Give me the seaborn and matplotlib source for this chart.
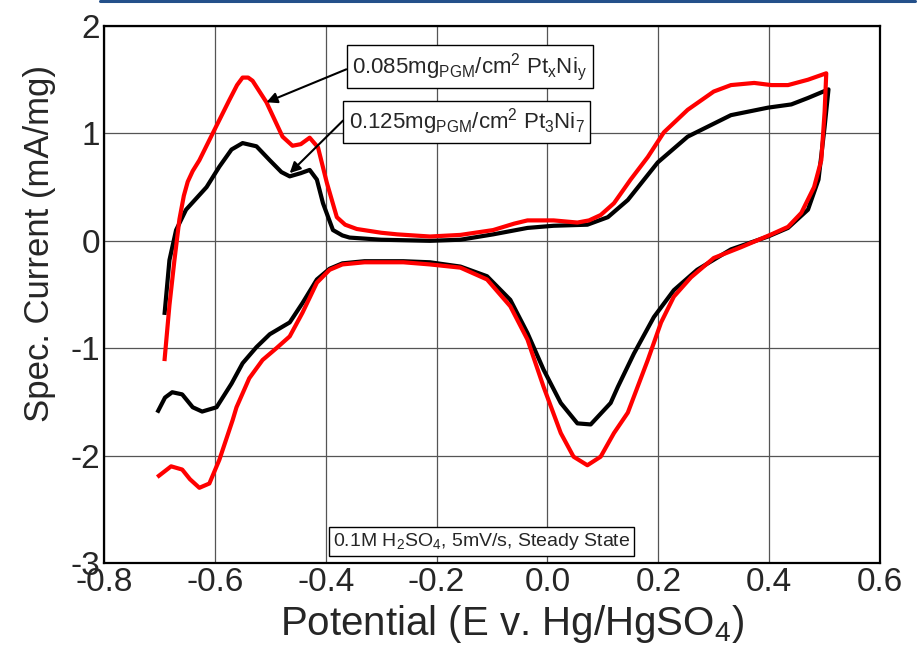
import numpy as np
import pandas as pd
import matplotlib
matplotlib.use("Agg")
import matplotlib.pyplot as plt
from matplotlib.lines import Line2D
import seaborn as sns

# potential (V vs Hg/HgSO4) and specific current (mA/mg)
ptni_x = [-0.691, -0.682, -0.673, -0.664, -0.656, -0.649, -0.640, -0.628, -0.604, -0.574,
          -0.560, -0.550, -0.540, -0.532, -0.507, -0.478, -0.460, -0.445, -0.429, -0.414,
          -0.398, -0.380, -0.365, -0.344, -0.300, -0.271, -0.212, -0.157, -0.098, -0.060,
          -0.036, 0.011, 0.054, 0.075, 0.096, 0.120, 0.150, 0.181, 0.210, 0.253,
          0.300, 0.331, 0.373, 0.404, 0.434, 0.470, 0.503,
          0.500, 0.494, 0.481, 0.458, 0.434, 0.404, 0.349, 0.300, 0.259, 0.228,
          0.205, 0.181, 0.145, 0.120, 0.096, 0.072, 0.047, 0.024, -0.007, -0.036,
          -0.067, -0.109, -0.157, -0.212, -0.260, -0.330, -0.370, -0.393, -0.416, -0.442,
          -0.465, -0.489, -0.514, -0.538, -0.561, -0.568, -0.592, -0.610, -0.628, -0.645,
          -0.659, -0.679, -0.704]
ptni_y = [-1.12, -0.60, -0.18, 0.20, 0.42, 0.55, 0.65, 0.75, 1.00, 1.31,
          1.45, 1.52, 1.52, 1.49, 1.29, 0.97, 0.885, 0.90, 0.96, 0.87,
          0.54, 0.22, 0.15, 0.11, 0.075, 0.06, 0.04, 0.055, 0.10, 0.16,
          0.19, 0.19, 0.17, 0.19, 0.24, 0.35, 0.57, 0.78, 1.01, 1.22,
          1.39, 1.45, 1.47, 1.45, 1.45, 1.50, 1.56,
          1.20, 0.75, 0.50, 0.26, 0.13, 0.06, -0.06, -0.16, -0.34, -0.52,
          -0.76, -1.11, -1.60, -1.79, -2.01, -2.09, -2.01, -1.79, -1.36, -0.92,
          -0.61, -0.36, -0.25, -0.22, -0.20, -0.20, -0.22, -0.27, -0.39, -0.67,
          -0.89, -1.00, -1.11, -1.28, -1.55, -1.67, -2.04, -2.26, -2.30, -2.22,
          -2.13, -2.10, -2.20]

pt3ni7_x = [-0.691, -0.682, -0.670, -0.652, -0.615, -0.592, -0.570, -0.550, -0.525, -0.501,
            -0.480, -0.465, -0.445, -0.429, -0.416, -0.405, -0.387, -0.370, -0.357, -0.300,
            -0.212, -0.157, -0.098, -0.036, 0.011, 0.072, 0.109, 0.145, 0.199, 0.253,
            0.331, 0.398, 0.440, 0.470, 0.507,
            0.500, 0.489, 0.470, 0.434, 0.398, 0.331, 0.270, 0.228, 0.192, 0.156,
            0.127, 0.114, 0.096, 0.078, 0.054, 0.024, -0.007, -0.036, -0.067, -0.109,
            -0.157, -0.212, -0.260, -0.330, -0.370, -0.393, -0.416, -0.442, -0.465, -0.501,
            -0.525, -0.550, -0.570, -0.597, -0.623, -0.640, -0.659, -0.677, -0.690, -0.704]
pt3ni7_y = [-0.69, -0.18, 0.10, 0.29, 0.50, 0.69, 0.85, 0.91, 0.88, 0.75,
            0.64, 0.60, 0.63, 0.66, 0.57, 0.35, 0.10, 0.05, 0.03, 0.01,
            0.00, 0.01, 0.06, 0.12, 0.14, 0.15, 0.22, 0.38, 0.73, 0.97,
            1.17, 1.24, 1.27, 1.33, 1.41,
            1.06, 0.57, 0.29, 0.12, 0.04, -0.08, -0.27, -0.46, -0.71, -1.05,
            -1.36, -1.51, -1.61, -1.71, -1.70, -1.51, -1.20, -0.86, -0.55, -0.33,
            -0.24, -0.20, -0.19, -0.19, -0.21, -0.26, -0.36, -0.58, -0.76, -0.87,
            -0.99, -1.14, -1.33, -1.55, -1.59, -1.55, -1.43, -1.41, -1.46, -1.60]

x_ticks = [-0.8, -0.6, -0.4, -0.2, 0.0, 0.2, 0.4, 0.6]
y_ticks = [-3, -2, -1, 0, 1, 2]

sns.set_style("white")
plt.rcParams["font.family"] = ["Liberation Sans", "DejaVu Sans"]
plt.rcParams["axes.unicode_minus"] = False
plt.rcParams["mathtext.fontset"] = "custom"
plt.rcParams["mathtext.rm"] = "Liberation Sans"
plt.rcParams["mathtext.it"] = "Liberation Sans:italic"
plt.rcParams["mathtext.bf"] = "Liberation Sans:bold"

fig = plt.figure(figsize=(9.19, 6.57), dpi=100)
ax = fig.add_axes([0.1132, 0.1431, 0.8444, 0.8173])

df_red = pd.DataFrame({"E": ptni_x, "I": ptni_y})
df_blk = pd.DataFrame({"E": pt3ni7_x, "I": pt3ni7_y})
sns.lineplot(data=df_blk, x="E", y="I", sort=False, estimator=None, color="black",
             lw=3.0, ax=ax, solid_joinstyle="round", solid_capstyle="butt", zorder=3)
sns.lineplot(data=df_red, x="E", y="I", sort=False, estimator=None, color="#ff0000",
             lw=3.0, ax=ax, solid_joinstyle="round", solid_capstyle="butt", zorder=4)

ax.set_xlim(-0.8, 0.6)
ax.set_ylim(-3, 2)
ax.set_xticks(x_ticks)
ax.set_xticklabels([f"{v:.1f}" for v in x_ticks])
ax.set_yticks(y_ticks)
ax.set_xticks(np.arange(-0.7, 0.6, 0.2), minor=True)
ax.set_yticks(np.arange(-2.5, 2.0, 1.0), minor=True)
ax.tick_params(axis="both", which="major", direction="in", length=9, width=1.5,
               labelsize=24, pad=3, top=False, right=False)
ax.tick_params(axis="both", which="minor", direction="in", length=5, width=1.5,
               top=False, right=False)
ax.grid(True, which="major", color="#555555", lw=0.9)
for s in ax.spines.values():
    s.set_linewidth(1.6)
    s.set_color("black")

ax.set_xlabel(r"Potential (E v. Hg/HgSO$_4$)", fontsize=29)
ax.xaxis.set_label_coords(0.526, -0.075)
ax.set_ylabel("Spec. Current (mA/mg)", fontsize=25)
ax.yaxis.set_label_coords(-0.062, 0.595)

box = dict(boxstyle="square,pad=0.25", fc="white", ec="black", lw=1.0)
arrow = dict(arrowstyle="-|>", color="black", lw=1.5, mutation_scale=16, shrinkA=0, shrinkB=0)
ax.annotate(r"0.085mg$_{\mathrm{PGM}}$/cm$^{2}$ Pt$_{\mathrm{x}}$Ni$_{\mathrm{y}}$",
            xy=(-0.507, 1.29), xytext=(-0.352, 1.62), fontsize=16, ha="left", va="center",
            bbox=box, arrowprops=dict(arrow, relpos=(0, 0.5)), zorder=6)
ax.annotate(r"0.125mg$_{\mathrm{PGM}}$/cm$^{2}$ Pt$_{3}$Ni$_{7}$",
            xy=(-0.465, 0.63), xytext=(-0.358, 1.11), fontsize=16, ha="left", va="center",
            bbox=box, arrowprops=dict(arrow, relpos=(0.01, 0.8)), zorder=6)
ax.text(-0.387, -2.80, r"0.1M H$_2$SO$_4$, 5mV/s, Steady State", fontsize=14,
        ha="left", va="center", bbox=dict(box, boxstyle="square,pad=0.2"), zorder=6)

# slide border line across the top
fig.add_artist(Line2D([100 / 919, 915 / 919], [1 - 1 / 657, 1 - 1 / 657],
                      color="#24508a", lw=2.2, transform=fig.transFigure))

fig.savefig("out.png", dpi=100)
